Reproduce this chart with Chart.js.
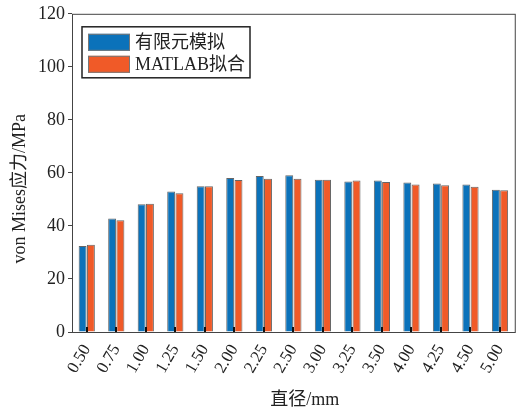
<!DOCTYPE html>
<html>
<head>
    <meta charset="utf-8">
    <script src="https://cdn.jsdelivr.net/npm/chart.js"></script>
    <style>
        body { margin: 0; background: #fff; }
        .chart-wrap { width: 527px; height: 414px; }
    </style>
</head>
<body>
    <div class="chart-wrap"><canvas id="myChart"></canvas></div>
    <script>
        // data
        const diameters = ['0.50', '0.75', '1.00', '1.25', '1.50', '2.00', '2.25', '2.50', '3.00', '3.25', '3.50', '4.00', '4.25', '4.50', '5.00'];
        const femStress = [32.4, 42.8, 48.2, 53.0, 55.0, 58.1, 58.8, 59.1, 57.4, 56.8, 57.1, 56.4, 56.0, 55.6, 53.6];
        const matlabStress = [32.9, 42.1, 48.4, 52.3, 55.0, 57.3, 57.8, 57.8, 57.4, 57.1, 56.6, 55.6, 55.3, 54.8, 53.5];
        const seriesNames = ['有限元模拟', 'MATLAB拟合'];
        const seriesColors = ['#0b72ba', '#f05a28'];

        const fontFamily = "'Liberation Serif', 'Noto Sans CJK SC', serif";
        Chart.defaults.font.family = fontFamily;
        Chart.defaults.color = '#222';

        // box around the plot, inward x tick marks, legend inside the plot
        const matlabFrame = {
            id: 'matlabFrame',
            afterDraw(chart) {
                const ctx = chart.ctx;
                const a = chart.chartArea;
                ctx.save();
                ctx.strokeStyle = '#444';
                ctx.lineWidth = 1;
                ctx.strokeRect(a.left + 0.5, a.top + 0.5, a.right - a.left, a.bottom - a.top);

                const x = chart.scales.x;
                ctx.strokeStyle = '#111';
                ctx.lineWidth = 2;
                x.ticks.forEach((t, i) => {
                    const px = Math.round(x.getPixelForTick(i));
                    ctx.beginPath();
                    ctx.moveTo(px, a.bottom);
                    ctx.lineTo(px, a.bottom - 5);
                    ctx.stroke();
                });

                // legend
                const lx = a.left + 10, ly = a.top + 13;
                ctx.lineWidth = 1.5;
                ctx.strokeStyle = '#222';
                ctx.fillStyle = '#fff';
                ctx.fillRect(lx, ly, 168, 51);
                ctx.strokeRect(lx, ly, 168, 51);
                ctx.font = '18px ' + fontFamily;
                ctx.textBaseline = 'middle';
                chart.data.datasets.forEach((ds, i) => {
                    const sy = ly + 7 + i * 22;
                    ctx.fillStyle = ds.backgroundColor;
                    ctx.fillRect(lx + 6, sy, 42, 17);
                    ctx.lineWidth = 1;
                    ctx.strokeStyle = '#777';
                    ctx.strokeRect(lx + 6.5, sy + 0.5, 41, 16);
                    ctx.fillStyle = '#222';
                    ctx.fillText(ds.label, lx + 53, sy + 9);
                });
                ctx.restore();
            }
        };

        new Chart(document.getElementById('myChart'), {
            type: 'bar',
            data: {
                labels: diameters,
                datasets: [
                    { label: seriesNames[0], data: femStress, backgroundColor: seriesColors[0] },
                    { label: seriesNames[1], data: matlabStress, backgroundColor: seriesColors[1] },
                ].map(ds => ({
                    ...ds,
                    borderColor: '#666',
                    borderWidth: 1,
                    categoryPercentage: 0.56,
                    barPercentage: 0.96,
                })),
            },
            options: {
                responsive: true,
                maintainAspectRatio: false,
                animation: false,
                layout: { padding: { top: 12, right: 10, left: 0, bottom: 0 } },
                scales: {
                    x: {
                        grid: { display: false, drawTicks: false },
                        border: { display: false },
                        ticks: {
                            minRotation: 60,
                            maxRotation: 60,
                            padding: 9,
                            color: '#222',
                            font: { size: 17 },
                        },
                        title: {
                            display: true,
                            text: '     直径/mm',
                            color: '#222',
                            font: { size: 18 },
                            padding: { top: 0, bottom: 3 },
                        },
                        afterFit(s) { s.height = 82; },
                    },
                    y: {
                        min: 0,
                        max: 120,
                        grid: {
                            drawOnChartArea: false,
                            drawTicks: true,
                            tickLength: 4,
                            color: '#444',
                        },
                        border: { display: false },
                        ticks: {
                            stepSize: 20,
                            padding: 3,
                            color: '#222',
                            font: { size: 18 },
                        },
                        title: {
                            display: true,
                            text: 'von Mises应力/MPa       ',
                            color: '#222',
                            font: { size: 18 },
                            padding: { top: 9, bottom: 0 },
                        },
                        afterFit(s) { s.width = 72; },
                    },
                },
                plugins: {
                    legend: { display: false },
                    tooltip: { enabled: false },
                },
            },
            plugins: [matlabFrame],
        });
    </script>
</body>
</html>
